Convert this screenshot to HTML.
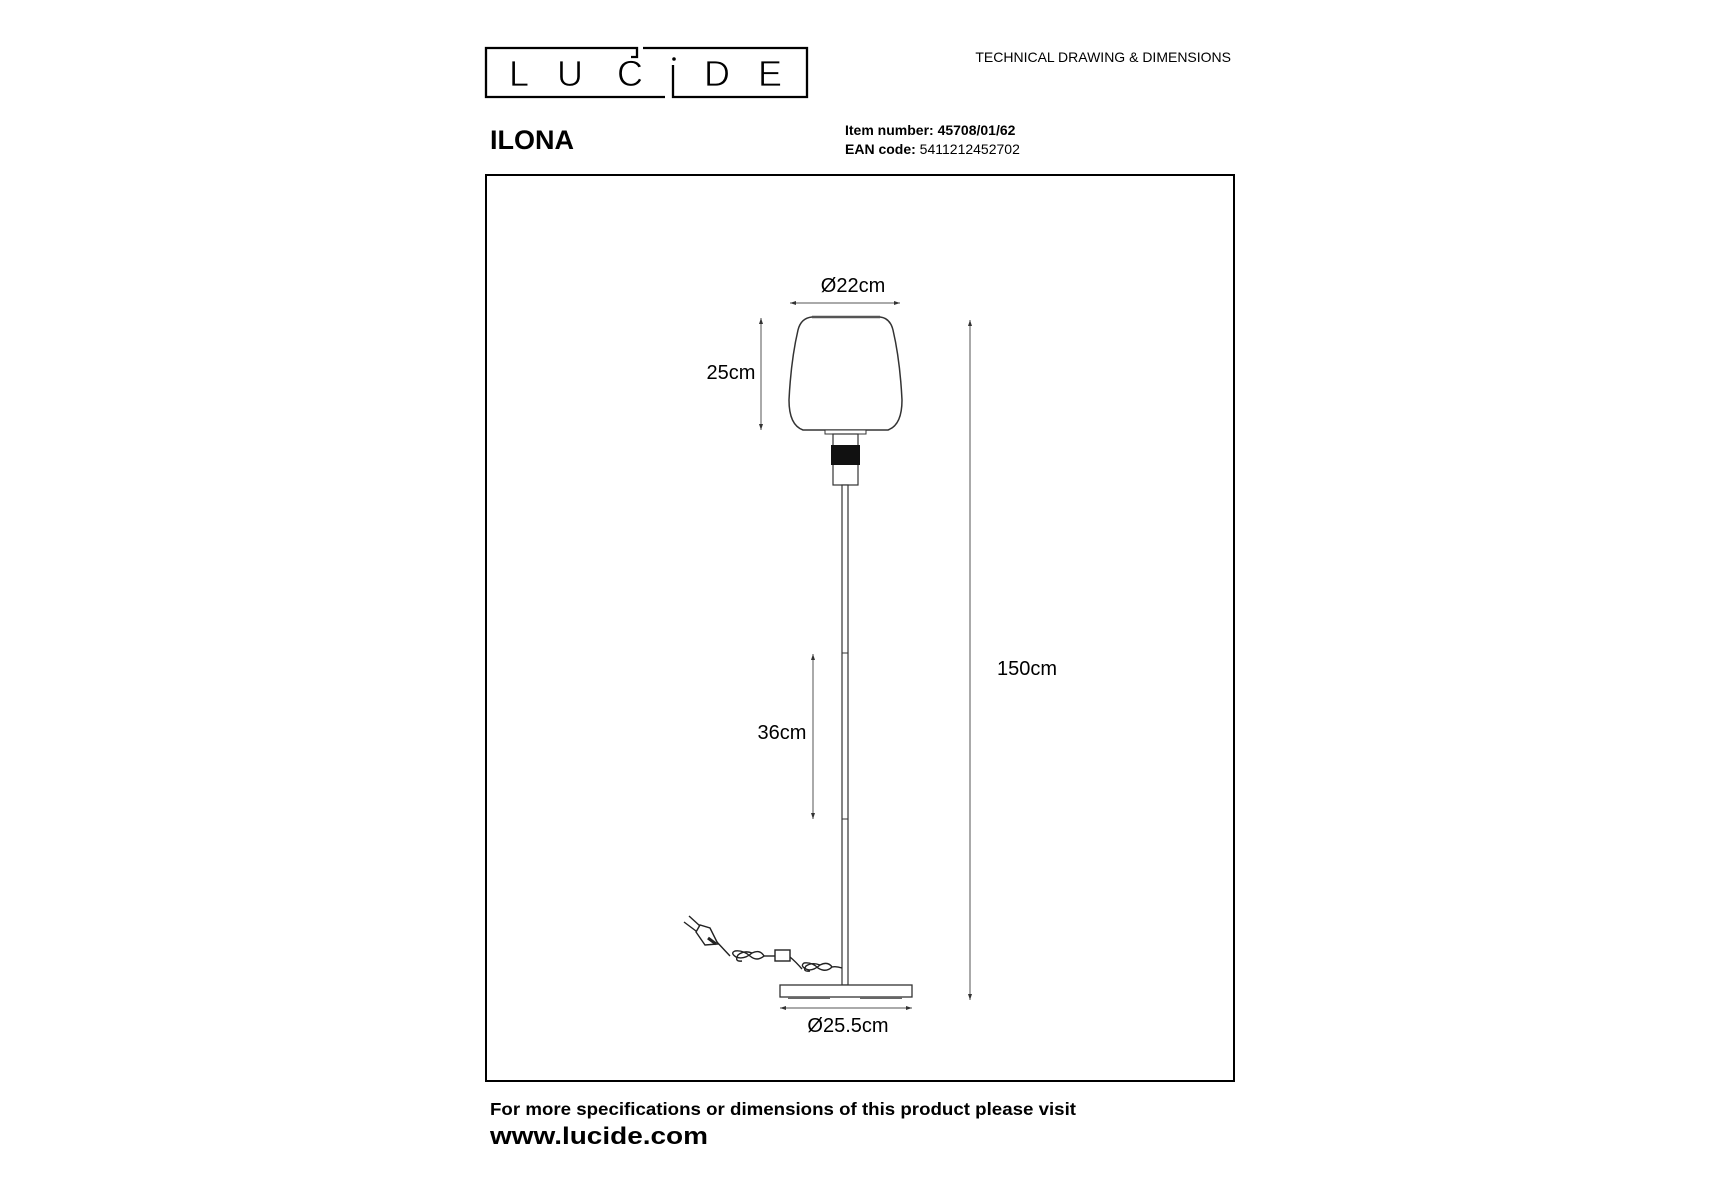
<!DOCTYPE html>
<html><head><meta charset="utf-8"><style>
html,body{margin:0;padding:0;background:#fff;}
svg{display:block;}
text{font-family:"Liberation Sans",Arial,sans-serif;fill:#000;}
</style></head><body>
<svg width="1715" height="1200" viewBox="0 0 1715 1200" xmlns="http://www.w3.org/2000/svg">
<!-- logo -->
<path d="M665 97 H486 V48 H637 V57 H631" fill="none" stroke="#000" stroke-width="2.3"/>
<path d="M643 48 H807 V97 H673 V65" fill="none" stroke="#000" stroke-width="2.3"/>
<g font-size="36" fill="#000" stroke="#fff" stroke-width="0.7">
<text x="509" y="86">L</text>
<text x="557" y="86">U</text>
<text x="617" y="86">C</text>
<text x="704" y="86">D</text>
<text x="758" y="86">E</text>
</g>
<circle cx="674" cy="59" r="1.8" fill="#000"/>
<text x="1231" y="62" font-size="14" text-anchor="end">TECHNICAL DRAWING &amp; DIMENSIONS</text>
<text x="490" y="149" font-size="27" font-weight="bold">ILONA</text>
<text x="845" y="135" font-size="14" font-weight="bold">Item number: 45708/01/62</text>
<text x="845" y="154" font-size="14"><tspan font-weight="bold">EAN code:</tspan> 5411212452702</text>
<!-- frame -->
<rect x="486" y="175" width="748" height="906" fill="none" stroke="#000" stroke-width="2"/>
<!-- shade -->
<path d="M812 317 H880 Q890 318 893 330 Q900 360 902 400 Q902 425 888 430 H803 Q789 425 789 400 Q791 360 798 330 Q801 318 812 317 Z" fill="#fff" stroke="#333" stroke-width="1.5"/>
<line x1="812" y1="317" x2="880" y2="317" stroke="#555" stroke-width="2.5"/>
<rect x="825" y="430" width="41" height="4" fill="#fff" stroke="#333" stroke-width="1"/>
<rect x="833" y="434" width="25" height="51" fill="#fff" stroke="#333" stroke-width="1.2"/>
<rect x="831" y="445" width="29" height="20" fill="#111"/>
<!-- pole -->
<rect x="842" y="485" width="6" height="500" fill="#fff" stroke="#333" stroke-width="1.2"/>
<line x1="842" y1="653" x2="848" y2="653" stroke="#333"/>
<line x1="842" y1="819" x2="848" y2="819" stroke="#333"/>
<!-- base -->
<rect x="780" y="985" width="132" height="12" fill="#fff" stroke="#333" stroke-width="1.3"/>
<rect x="788" y="997" width="42" height="2" fill="#666"/>
<rect x="860" y="997" width="42" height="2" fill="#666"/>
<!-- cable -->
<g fill="none" stroke="#222" stroke-width="1.4">
<path d="M842 968 Q836 966 832 967"/>
<path d="M832 967 Q828 961 820 965 Q812 972 806 969 Q800 966 804 963 Q812 962 818 968 Q826 973 832 967"/>
<path d="M820 965 Q812 962 806 966 Q802 972 810 971"/>
<path d="M802 969 Q796 962 790 957"/>
<rect x="775" y="950" width="15" height="11" fill="#fff"/>
<path d="M775 956 H764"/>
<path d="M764 956 Q760 949 752 953 Q744 960 736 957 Q730 953 735 951 Q743 950 750 956 Q757 962 764 956"/>
<path d="M752 953 Q744 950 738 955 Q734 962 742 961"/>
<path d="M730 956 L716 941"/>
<path d="M718 944 L710 928 L700 925 L696 932 L705 945 Z" fill="#fff"/>
<path d="M708 938 L716 944" stroke-width="3"/>
<path d="M700 926 L689 916 M696 931 L684 922"/>
</g>
<!-- dimensions -->
<g stroke="#555" stroke-width="1">
<line x1="790" y1="303" x2="900" y2="303"/>
<line x1="761" y1="318" x2="761" y2="430"/>
<line x1="970" y1="320" x2="970" y2="1000"/>
<line x1="813" y1="654" x2="813" y2="819"/>
<line x1="780" y1="1008" x2="912" y2="1008"/>
</g>
<g fill="#333">
<path d="M790 303 l6 -2 v4z"/><path d="M900 303 l-6 -2 v4z"/>
<path d="M761 318 l-2 6 h4z"/><path d="M761 430 l-2 -6 h4z"/>
<path d="M970 320 l-2 6 h4z"/><path d="M970 1000 l-2 -6 h4z"/>
<path d="M813 654 l-2 6 h4z"/><path d="M813 819 l-2 -6 h4z"/>
<path d="M780 1008 l6 -2 v4z"/><path d="M912 1008 l-6 -2 v4z"/>
</g>
<g font-size="20" text-anchor="middle">
<text x="853" y="292">Ø22cm</text>
<text x="731" y="379">25cm</text>
<text x="1027" y="675">150cm</text>
<text x="782" y="739">36cm</text>
<text x="848" y="1032">Ø25.5cm</text>
</g>
<!-- footer -->
<text x="490" y="1115" font-size="17.5" font-weight="bold" textLength="586" lengthAdjust="spacingAndGlyphs">For more specifications or dimensions of this product please visit</text>
<text x="490" y="1144" font-size="24" font-weight="bold" textLength="218" lengthAdjust="spacingAndGlyphs">www.lucide.com</text>
</svg>
</body></html>
